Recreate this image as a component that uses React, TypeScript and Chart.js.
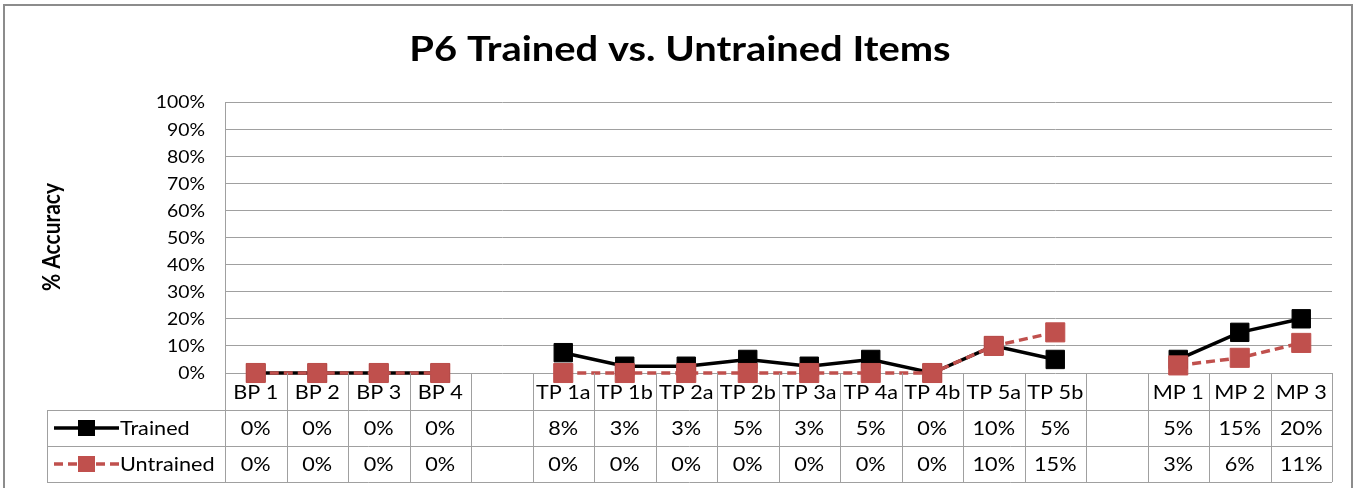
import React, { useEffect, useRef } from "react";
import { Chart, registerables } from "chart.js";

Chart.register(...registerables);

const title = "P6 Trained vs. Untrained Items";
const yAxisTitle = "% Accuracy";
const categories = ["BP 1", "BP 2", "BP 3", "BP 4", "", "TP 1a", "TP 1b", "TP 2a", "TP 2b", "TP 3a", "TP 4a", "TP 4b", "TP 5a", "TP 5b", "", "MP 1", "MP 2", "MP 3"];
const trained = [0, 0, 0, 0, null, 7.5, 2.5, 2.5, 5, 2.5, 5, 0, 10, 5, null, 5, 15, 20];
const untrained = [0, 0, 0, 0, null, 0, 0, 0, 0, 0, 0, 0, 10, 15, null, 2.8, 5.6, 11.1];
const seriesNames = ["Trained", "Untrained"];
const yTickValues = [0, 10, 20, 30, 40, 50, 60, 70, 80, 90, 100];

const FONT = "Lato, 'Open Sans', sans-serif";
const GRID = "#a0a0a0";
const RED = "#C0504D";
const SX = 1.14;

function txt(ctx: CanvasRenderingContext2D, s: string, x: number, y: number, size: number, bold: boolean, align: CanvasTextAlign) {
  ctx.save();
  ctx.translate(x, y);
  ctx.scale(SX, 1);
  ctx.font = `${bold ? "bold " : ""}${size}px ${FONT}`;
  ctx.textAlign = align;
  ctx.textBaseline = "middle";
  ctx.fillStyle = "#000";
  ctx.fillText(s, 0, 0);
  ctx.restore();
}

const tablePlugin = {
  id: "excelTable",
  afterDraw(chart: any) {
    const ctx = chart.ctx as CanvasRenderingContext2D;
    const area = chart.chartArea;
    const yScale = chart.scales.y;
    const n = categories.length;
    const colW = (area.right - area.left) / n;
    const y0 = area.bottom;
    const y1 = y0 + 37;
    const y2 = y1 + 36;
    const y3 = y2 + 36;
    const legL = 47;
    ctx.save();
    // outer frame
    ctx.strokeStyle = "#8c8c8c";
    ctx.lineWidth = 2;
    ctx.strokeRect(4, 5, 1348, 500);
    // title
    txt(ctx, title, 680, 50, 35, true, "center");
    // y axis title (rotated, stretched across)
    ctx.save();
    ctx.translate(52, 237);
    ctx.rotate(-Math.PI / 2);
    ctx.scale(1, SX);
    ctx.font = `bold 21px ${FONT}`;
    ctx.textAlign = "center";
    ctx.textBaseline = "middle";
    ctx.fillStyle = "#000";
    ctx.fillText(yAxisTitle, 0, 0);
    ctx.restore();
    // y tick labels
    for (const v of yTickValues) {
      txt(ctx, `${v}%`, 205, yScale.getPixelForValue(v) + 1, 17, false, "right");
    }
    // grid of table
    ctx.strokeStyle = GRID;
    ctx.lineWidth = 1;
    ctx.beginPath();
    for (let i = 0; i <= n; i++) {
      const x = Math.round(area.left + i * colW) + 0.5;
      ctx.moveTo(x, y0);
      ctx.lineTo(x, y3);
    }
    ctx.moveTo(legL + 0.5, y1);
    ctx.lineTo(legL + 0.5, y3);
    for (const y of [y1, y2, y3]) {
      ctx.moveTo(legL, Math.round(y) + 0.5);
      ctx.lineTo(area.right, Math.round(y) + 0.5);
    }
    ctx.stroke();
    // texts
    const rows = [trained, untrained];
    for (let i = 0; i < n; i++) {
      const cx = area.left + (i + 0.5) * colW;
      if (categories[i]) txt(ctx, categories[i], cx, (y0 + y1) / 2 + 1, 19, false, "center");
      rows.forEach((r, k) => {
        const v = r[i];
        if (v === null || v === undefined) return;
        const yc = k === 0 ? (y1 + y2) / 2 : (y2 + y3) / 2;
        txt(ctx, `${Math.round(v)}%`, cx, yc + 1, 19, false, "center");
      });
    }
    // legend
    const legends = [
      { name: seriesNames[0], color: "#000", dash: [] as number[], yc: (y1 + y2) / 2 },
      { name: seriesNames[1], color: RED, dash: [9, 5], yc: (y2 + y3) / 2 },
    ];
    for (const l of legends) {
      ctx.strokeStyle = l.color;
      ctx.lineWidth = 3.5;
      ctx.setLineDash(l.dash);
      ctx.beginPath();
      ctx.moveTo(54, l.yc);
      ctx.lineTo(119, l.yc);
      ctx.stroke();
      ctx.setLineDash([]);
      ctx.fillStyle = l.color;
      ctx.fillRect(78, l.yc - 8, 17, 16);
      txt(ctx, l.name, 120, l.yc + 1, 19, false, "left");
    }
    ctx.restore();
  },
};

export default function App() {
  const ref = useRef<HTMLCanvasElement | null>(null);
  useEffect(() => {
    document.body.style.margin = "0";
    const chart = new Chart(ref.current!, {
      type: "line",
      data: {
        labels: categories,
        datasets: [
          {
            label: seriesNames[0],
            data: trained,
            borderColor: "#000",
            backgroundColor: "#000",
            borderWidth: 3.5,
            pointStyle: "rect",
            pointRadius: 13,
            pointBorderWidth: 1,
            pointBackgroundColor: "#000",
            pointBorderColor: "#000",
            clip: false,
            order: 1,
            tension: 0,
          },
          {
            label: seriesNames[1],
            data: untrained,
            borderColor: RED,
            backgroundColor: RED,
            borderWidth: 3.5,
            borderDash: [9, 5],
            pointStyle: "rect",
            pointRadius: 13.5,
            pointBorderWidth: 1,
            pointBackgroundColor: RED,
            pointBorderColor: RED,
            clip: false,
            order: 0,
            tension: 0,
          },
        ],
      },
      options: {
        responsive: false,
        animation: false,
        layout: { padding: { left: 225, top: 102, right: 24, bottom: 115 } },
        plugins: { legend: { display: false }, tooltip: { enabled: false }, title: { display: false } },
        scales: {
          x: { display: false, offset: true },
          y: {
            min: 0,
            max: 100,
            afterFit: (s: any) => {
              s.width = 0;
            },
            ticks: { display: false, stepSize: 10 },
            grid: { color: GRID, drawTicks: false },
            border: { display: true, color: GRID },
          },
        },
      },
      plugins: [tablePlugin],
    });
    return () => chart.destroy();
  }, []);
  return (
    <div style={{ position: "fixed", left: 0, top: 0, width: 1356, height: 488, background: "#fff" }}>
      <canvas ref={ref} width={1356} height={488} style={{ display: "block" }} />
    </div>
  );
}
